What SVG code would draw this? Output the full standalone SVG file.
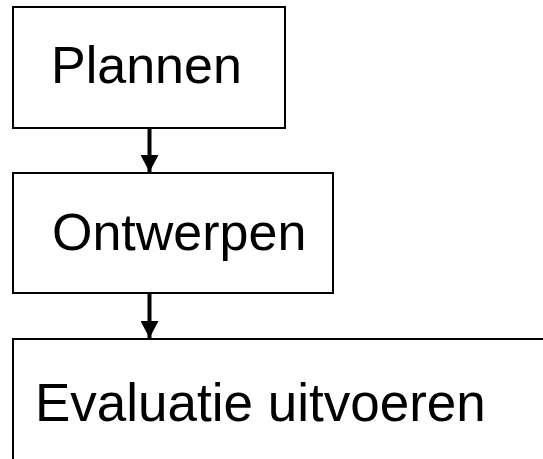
<svg xmlns="http://www.w3.org/2000/svg" width="543" height="459" viewBox="0 0 543 459">
<defs>
<style>
.box{fill:#fff;stroke:#000;stroke-width:2}
.lbl{font-family:"Liberation Sans",Arial,sans-serif;font-size:52px;fill:#000}
.con{stroke:#000;stroke-width:4;fill:none}
</style>
<marker id="ah" markerUnits="userSpaceOnUse" markerWidth="18" markerHeight="18" viewBox="0 0 18 18" refX="17" refY="9" orient="auto">
<path d="M0,0 L17,9 L0,18 Z" fill="#000"/>
</marker>
</defs>
<rect width="543" height="459" fill="#fff"/>
<g id="node-plannen">
<rect class="box" x="13" y="7" width="272" height="121"/>
<text class="lbl" x="51" y="83">Plannen</text>
</g>
<g id="node-ontwerpen">
<rect class="box" x="13" y="173" width="320" height="120"/>
<text class="lbl" x="52" y="250">Ontwerpen</text>
</g>
<g id="node-evaluatie">
<rect class="box" x="13" y="339" width="545" height="140"/>
<text class="lbl" x="35" y="421" style="font-size:53px">Evaluatie uitvoeren</text>
</g>
<g id="connectors">
<line class="con" x1="149.5" y1="128" x2="149.5" y2="172" marker-end="url(#ah)"/>
<line class="con" x1="149.5" y1="293" x2="149.5" y2="338" marker-end="url(#ah)"/>
</g>
</svg>
